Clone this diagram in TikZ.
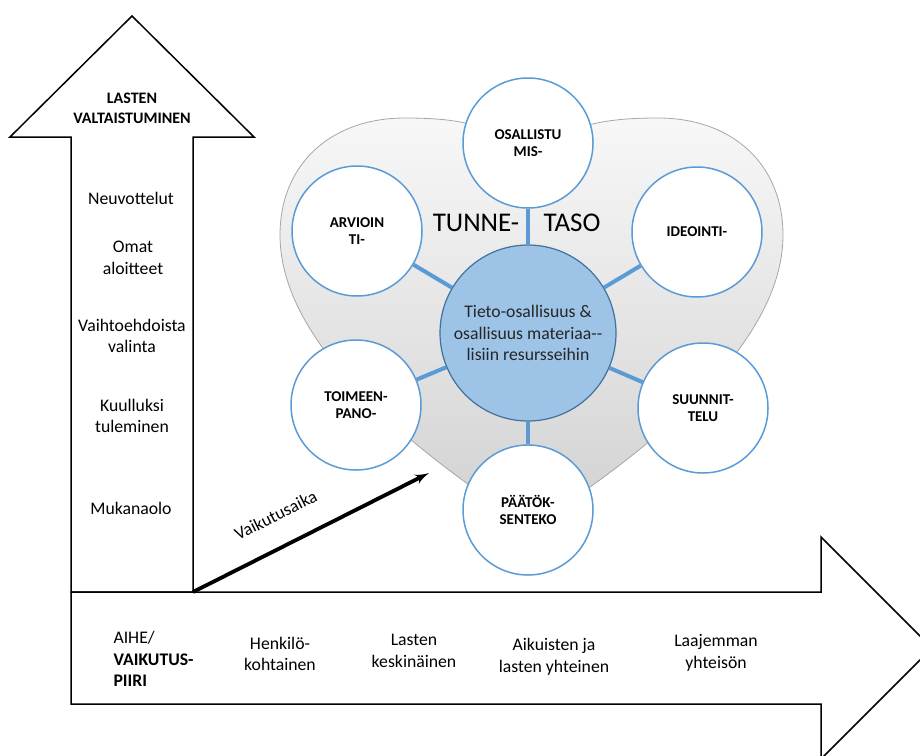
\documentclass[tikz,border=0pt]{standalone}
\usepackage{fontspec}
\setmainfont{Carlito}
\usepackage{xcolor}
\usetikzlibrary{shapes,arrows,positioning}

\definecolor{petalblue}{HTML}{5B9BD5}
\definecolor{coreblue}{HTML}{9DC3E6}
\definecolor{coreline}{HTML}{41719C}

\begin{document}
\begin{tikzpicture}[x=1pt, y=-1pt, node distance=190pt]
	% % % % % % % % % % % % % % % % % % % % % % % % % % % % % %
	% Define styles
	\tikzstyle{petal} = [circle, draw=petalblue, line width=1.5pt, fill=white, minimum size=130pt,
					     inner sep=0pt, align=center, font=\fontsize{15}{17.5}\selectfont\bfseries]
	\tikzstyle{core} = [circle, draw=coreline, line width=1.2pt, fill=coreblue, minimum size=176pt,
					    inner sep=0pt, align=center, text=black!85, font=\fontsize{17.7}{21.7}\selectfont]
	\tikzstyle{txt} = [align=center, font=\fontsize{17.7}{21.7}\selectfont]
	\tikzstyle{head} = [align=center, font=\fontsize{16}{20}\selectfont\bfseries]
	\tikzstyle{spoke} = [draw=petalblue, line width=4pt]
	\tikzstyle{bigarrow} = [draw, line width=1.5pt, fill=white, line join=miter]
	\tikzstyle{line} = [draw, -latex', line width=3.8pt]

	\useasboundingbox (0,0) rectangle (920,755);
	\clip (0,0) rectangle (920,755);

	% % % % % % % % % % % % % % % % % % % % % % % % % % % % % %
	% Big arrows
	\draw [bigarrow] (71,592) -- (71,137) -- (10,137) -- (132,16) -- (254,137) -- (193,137) -- (193,592) -- cycle;
	\draw [bigarrow] (71,592) -- (821,592) -- (821,537) -- (932,648) -- (821,759) -- (821,704) -- (71,704) -- cycle;

	% heart
	\path [top color=white!97!black, bottom color=black!18, draw=black!35, line width=0.8pt]
		(531,165) .. controls (505,125) and (460,118) .. (405,118)
		.. controls (330,118) and (280,165) .. (280,235)
		.. controls (280,330) and (380,430) .. (531,527)
		.. controls (682,430) and (783,330) .. (783,235)
		.. controls (783,165) and (733,118) .. (658,118)
		.. controls (603,118) and (557,125) .. (531,165) -- cycle;

	% % % % % % % % % % % % % % % % % % % % % % % % % % % % % %
	% Place nodes
	% centre
	\node [core] (ctr) at (528,333) {Tieto-osallisuus \&\\osallisuus materiaa-{}-\\lisiin resursseihin};
	% petals
	\node [petal, above of=ctr] (osa) {OSALLISTU\\MIS-};
	\node [petal, left of=ctr, node distance=171pt, yshift=102pt] (arv) {ARVIOIN\\TI-};
	\node [petal, right of=ctr, node distance=169pt, yshift=101pt] (ide) {IDEOINTI-};
	\node [petal, left of=ctr, node distance=172pt, yshift=-72pt] (toi) {TOIMEEN-\\PANO-};
	\node [petal, right of=ctr, node distance=175pt, yshift=-75pt] (suu) {SUUNNIT-\\TELU};
	\node [petal, below of=ctr, node distance=177pt] (paa) {PÄÄTÖK-\\SENTEKO};
	% level title
	\node [font=\fontsize{27}{30}\selectfont] (tunne) at (476,223) {TUNNE-};
	\node [font=\fontsize{27}{30}\selectfont] (taso) at (572,223) {TASO};

	% vertical arrow texts
	\node [head] (val) at (132,108) {LASTEN\\VALTAISTUMINEN};
	\node [txt] (neu) at (131,198) {Neuvottelut};
	\node [txt] (oma) at (133,258) {Omat\\aloitteet};
	\node [txt] (vai) at (132,336) {Vaihtoehdoista\\valinta};
	\node [txt] (kuu) at (132,416) {Kuulluksi\\tuleminen};
	\node [txt] (muk) at (131,508) {Mukanaolo};

	% horizontal arrow texts
	\node [txt, align=left, anchor=west] (aihe) at (110,659) {AIHE/\\\textbf{VAIKUTUS-}\\\textbf{PIIRI}};
	\node [txt] (hen) at (280,654) {Henkilö-\\kohtainen};
	\node [txt] (las) at (414,651) {Lasten\\keskinäinen};
	\node [txt] (aik) at (554,657) {Aikuisten ja\\lasten yhteinen};
	\node [txt] (laa) at (716,653) {Laajemman\\yhteisön};

	% Draw edges
	\path [spoke] (ctr) -- (osa);
	\path [spoke] (ctr) -- (arv);
	\path [spoke] (ctr) -- (ide);
	\path [spoke] (ctr) -- (toi);
	\path [spoke] (ctr) -- (suu);
	\path [spoke] (ctr) -- (paa);

	% time arrow
	\coordinate (t0) at (193,592);
	\coordinate (t1) at (429,473);
	\path [line] (t0) -- node [txt, sloped, above=20pt, pos=0.41] {Vaikutusaika} (t1);
\end{tikzpicture}
\end{document}
